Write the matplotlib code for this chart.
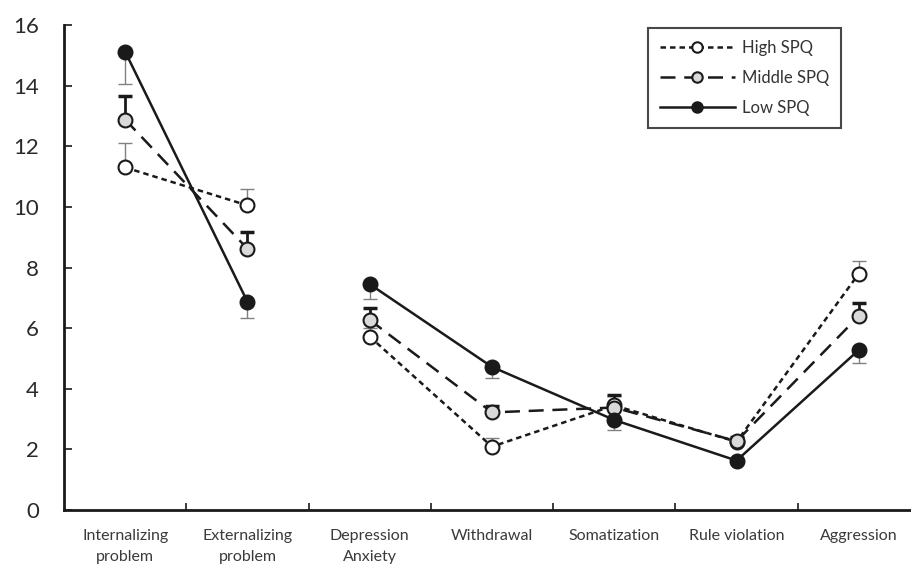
import numpy as np
import matplotlib
matplotlib.use("Agg")
import matplotlib.pyplot as plt
from matplotlib.ticker import FixedLocator

categories = ["Internalizing\nproblem", "Externalizing\nproblem", "Depression\nAnxiety",
              "Withdrawal", "Somatization", "Rule violation", "Aggression"]
high_spq = [11.3, 10.05, 5.72, 2.09, 3.45, 2.25, 7.8]
middle_spq = [12.88, 8.62, 6.27, 3.22, 3.38, 2.27, 6.4]
low_spq = [15.12, 6.87, 7.45, 4.72, 2.97, 1.63, 5.28]
high_err_up = [0.8, 0.55, 0.3, 0.3, 0.3, 0.15, 0.42]
middle_err_up = [0.77, 0.55, 0.4, 0.2, 0.4, 0.15, 0.42]
low_err_down = [1.05, 0.52, 0.5, 0.35, 0.32, 0.1, 0.42]
yticks = [0, 2, 4, 6, 8, 10, 12, 14, 16]

plt.rcParams['font.family'] = ['Lato', 'DejaVu Sans']

fig = plt.figure(figsize=(9.11, 5.64), dpi=100)
ax = fig.add_axes([64/911, 54/564, 856/911, 485/564])

x = np.arange(len(categories)) + 0.5
segments = [slice(0, 2), slice(2, 7)]

def draw(vals, ls, face, label, errs, direction, ecolor, elw, capthick):
    vals = np.array(vals)
    errs = np.array(errs)
    if direction == 'up':
        yerr = [np.zeros_like(errs), errs]
    else:
        yerr = [errs, np.zeros_like(errs)]
    ax.errorbar(x, vals, yerr=yerr, fmt='none', ecolor=ecolor, elinewidth=elw,
                capsize=5, capthick=capthick, zorder=2)
    for i, s in enumerate(segments):
        ax.plot(x[s], vals[s], linestyle=ls, color='#1a1a1a', lw=1.8,
                marker='o', markersize=10, markerfacecolor=face,
                markeredgecolor='#1a1a1a', markeredgewidth=1.5,
                label=label if i == 0 else None, zorder=3)

draw(high_spq, (0, (2.2, 1.6)), 'white', 'High SPQ', high_err_up, 'up', '#808080', 1.0, 1.0)
draw(middle_spq, (0, (6, 3.5)), '#d9d9d9', 'Middle SPQ', middle_err_up, 'up', '#1a1a1a', 2.0, 2.5)
draw(low_spq, '-', '#1a1a1a', 'Low SPQ', low_err_down, 'down', '#808080', 1.0, 1.0)

ax.set_xlim(0, 7)
ax.set_ylim(0, 16)
ax.set_yticks(yticks)
ax.set_xticks(x)
ax.set_xticklabels(categories, fontsize=11.5, color='#3a3a3a', linespacing=1.6)
ax.xaxis.set_minor_locator(FixedLocator(np.arange(1, 7)))
ax.tick_params(axis='x', which='major', length=0, pad=14)
ax.tick_params(axis='x', which='minor', direction='in', length=5, width=1.2, color='#1a1a1a')
ax.tick_params(axis='y', direction='in', length=6, width=1.2, labelsize=16, pad=18,
               color='#1a1a1a', labelcolor='#2a2a2a')
for sp in ['top', 'right']:
    ax.spines[sp].set_visible(False)
for sp in ['left', 'bottom']:
    ax.spines[sp].set_linewidth(2)
    ax.spines[sp].set_color('#1a1a1a')

leg = ax.legend(loc='upper left', frameon=True, fancybox=False,
                edgecolor='#1a1a1a', fontsize=12, handlelength=4.5, labelspacing=0.85,
                borderpad=0.7, handletextpad=0.45, markerscale=0.75)
leg.set_bbox_to_anchor((648/911, (564-28)/564), transform=fig.transFigure)
leg.borderaxespad = 0
leg.get_frame().set_linewidth(1.5)
for t in leg.get_texts():
    t.set_color('#333333')

fig.savefig('out.png', dpi=100)
